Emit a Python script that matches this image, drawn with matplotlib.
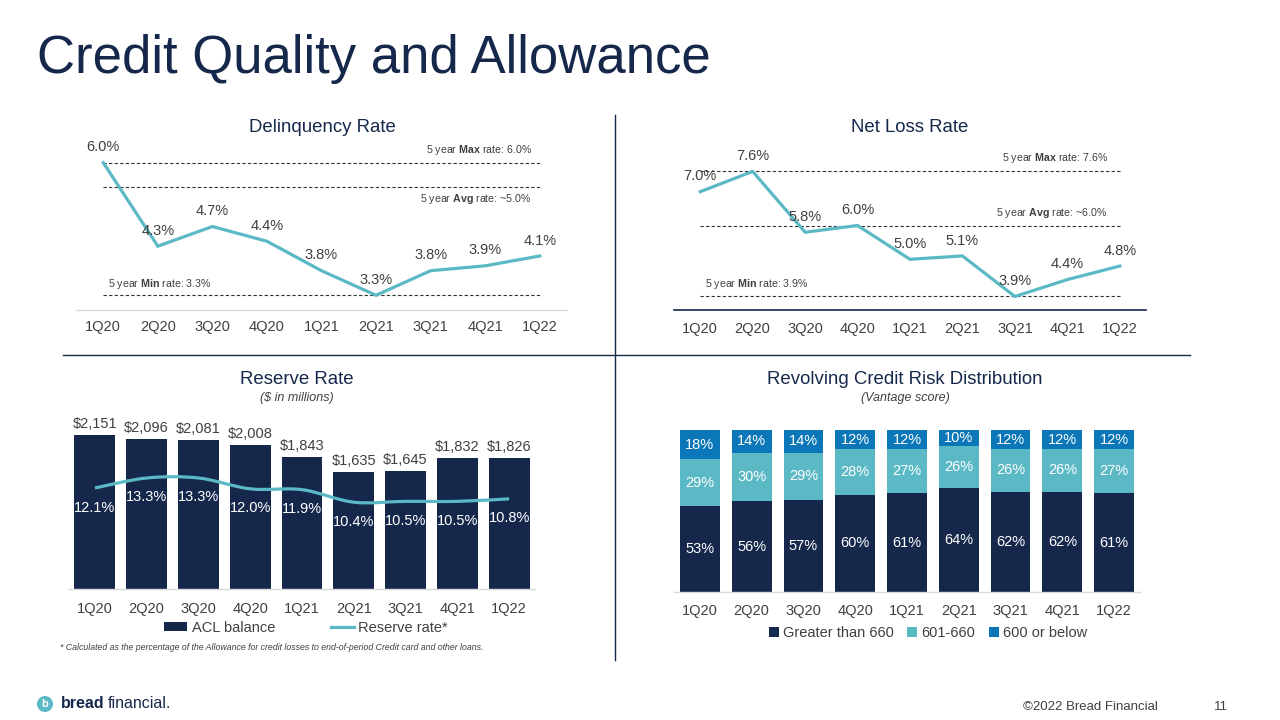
import matplotlib
matplotlib.use("Agg")
import matplotlib.pyplot as plt
from matplotlib.lines import Line2D
from matplotlib.patches import Patch, Ellipse, PathPatch
from matplotlib.path import Path
import numpy as np

plt.rcParams['font.family'] = ['Liberation Sans', 'DejaVu Sans']
plt.rcParams['mathtext.fontset'] = 'custom'
plt.rcParams['mathtext.rm'] = 'Liberation Sans'
plt.rcParams['mathtext.bf'] = 'Liberation Sans:bold'

# ---------------- data ----------------
quarters = ["1Q20", "2Q20", "3Q20", "4Q20", "1Q21", "2Q21", "3Q21", "4Q21", "1Q22"]

delinquency = [6.0, 4.3, 4.7, 4.4, 3.8, 3.3, 3.8, 3.9, 4.1]
delinq_max, delinq_avg_line, delinq_min = 6.0, 5.5, 3.3
delinq_max_lbl = "6.0%"
delinq_avg_lbl = "~5.0%"
delinq_min_lbl = "3.3%"

net_loss = [7.0, 7.6, 5.8, 6.0, 5.0, 5.1, 3.9, 4.4, 4.8]
nl_max, nl_avg_line, nl_min = 7.6, 6.0, 3.9
nl_max_lbl = "7.6%"
nl_avg_lbl = "~6.0%"
nl_min_lbl = "3.9%"

acl_balance = [2151, 2096, 2081, 2008, 1843, 1635, 1645, 1832, 1826]
reserve_rate = [12.1, 13.3, 13.3, 12.0, 11.9, 10.4, 10.5, 10.5, 10.8]

gt_660 = [53, 56, 57, 60, 61, 64, 62, 62, 61]
r601_660 = [29, 30, 29, 28, 27, 26, 26, 26, 27]
le_600 = [18, 14, 14, 12, 12, 10, 12, 12, 12]

# ---------------- style ----------------
NAVY = '#15284B'
TEAL = '#5BB9C5'
BLUE = '#0B76B8'
TXT = '#404040'
GRAY = '#D9D9D9'

W, H = 1280, 720
fig = plt.figure(figsize=(12.8, 7.2), dpi=100)
fig.patch.set_facecolor('white')


def rect(l, t, r, b):
    return [l / W, 1 - b / H, (r - l) / W, (b - t) / H]


def fx(x):
    return x / W


def fy(y):
    return 1 - y / H


x = np.arange(len(quarters))


def style_axes(ax, spine_color, spine_lw=1.0, pad=6):
    for s in ['top', 'right', 'left']:
        ax.spines[s].set_visible(False)
    ax.spines['bottom'].set_color(spine_color)
    ax.spines['bottom'].set_linewidth(spine_lw)
    ax.set_yticks([])
    ax.set_xticks(x)
    ax.set_xticklabels(quarters, fontsize=10.5, color=TXT)
    ax.tick_params(axis='x', length=0, pad=pad)
    ax.set_xlim(-0.5, len(quarters) - 0.5)
    ax.patch.set_alpha(0)


# ---------------- Title ----------------
fig.text(fx(37), fy(59), "Credit Quality and Allowance", fontsize=38,
         color=NAVY, va='center', ha='left')

# ---------------- Delinquency ----------------
ax1 = fig.add_axes(rect(76, 140, 567, 310))
style_axes(ax1, GRAY, 1.0, pad=7)
ax1.set_ylim(3.0, 3.0 + 170 / 49.1)
ax1.plot(x, delinquency, color=TEAL, lw=2.3, solid_joinstyle='miter', zorder=3)
for v in (delinq_max, delinq_avg_line, delinq_min):
    ax1.hlines(v, 0, len(quarters) - 1, colors='#333333', linestyles=(0, (3, 2)), lw=0.8)
for xi, v in zip(x, delinquency):
    ax1.annotate(f"{v:.1f}%", (xi, v), xytext=(0, 6), textcoords='offset points',
                 ha='center', va='bottom', fontsize=10.5, color=TXT)
fig.text(fx(322), fy(127), "Delinquency Rate", fontsize=13.4, color=NAVY, ha='center', va='center')
fig.text(fx(532), fy(150), r"5 year $\mathbf{Max}$ rate: " + delinq_max_lbl, fontsize=7.7,
         color=TXT, ha='right', va='center')
fig.text(fx(532), fy(199), r"5 year $\mathbf{Avg}$ rate: " + delinq_avg_lbl, fontsize=7.7,
         color=TXT, ha='right', va='center')
fig.text(fx(108), fy(284), r"5 year $\mathbf{Min}$ rate: " + delinq_min_lbl, fontsize=7.7,
         color=TXT, ha='left', va='center')

# ---------------- Net Loss ----------------
ax2 = fig.add_axes(rect(674, 140, 1146, 310))
style_axes(ax2, NAVY, 1.2, pad=9)
ax2.set_ylim(3.5, 3.5 + 170 / 33.8)
ax2.plot(x, net_loss, color=TEAL, lw=2.3, zorder=3)
for v in (nl_max, nl_avg_line, nl_min):
    ax2.hlines(v, 0, len(quarters) - 1, colors='#333333', linestyles=(0, (3, 2)), lw=0.8)
for xi, v in zip(x, net_loss):
    ax2.annotate(f"{v:.1f}%", (xi, v), xytext=(0, 6), textcoords='offset points',
                 ha='center', va='bottom', fontsize=10.5, color=TXT)
fig.text(fx(910), fy(127), "Net Loss Rate", fontsize=13.4, color=NAVY, ha='center', va='center')
fig.text(fx(1108), fy(158), r"5 year $\mathbf{Max}$ rate: " + nl_max_lbl, fontsize=7.7,
         color=TXT, ha='right', va='center')
fig.text(fx(1108), fy(213), r"5 year $\mathbf{Avg}$ rate: " + nl_avg_lbl, fontsize=7.7,
         color=TXT, ha='right', va='center')
fig.text(fx(705), fy(284), r"5 year $\mathbf{Min}$ rate: " + nl_min_lbl, fontsize=7.7,
         color=TXT, ha='left', va='center')

# ---------------- Reserve Rate ----------------
ax3 = fig.add_axes(rect(69, 420, 535, 589))
style_axes(ax3, GRAY, 1.0, pad=9)
ax3.set_ylim(0, 2151 * 169 / 154)
ax3.bar(x, acl_balance, width=0.79, color=NAVY, zorder=2)
for xi, v in zip(x, acl_balance):
    ax3.annotate(f"${v:,}", (xi, v), xytext=(0, 3), textcoords='offset points',
                 ha='center', va='bottom', fontsize=10.5, color=TXT)
ax3b = ax3.twinx()
ax3b.set_ylim(0, 12.1 * 169 / 101)
ax3b.axis('off')
# smooth curve (Catmull-Rom -> cubic Bezier) through the data points
P = np.column_stack([x, reserve_rate]).astype(float)
verts = [tuple(P[0])]
codes = [Path.MOVETO]
n = len(P)
for i in range(n - 1):
    p0 = P[i - 1] if i > 0 else P[i]
    p1, p2 = P[i], P[i + 1]
    p3 = P[i + 2] if i + 2 < n else P[i + 1]
    c1 = p1 + (p2 - p0) / 6.0
    c2 = p2 - (p3 - p1) / 6.0
    verts += [tuple(c1), tuple(c2), tuple(p2)]
    codes += [Path.CURVE4] * 3
ax3b.add_patch(PathPatch(Path(verts, codes), facecolor='none', edgecolor=TEAL, lw=2.3, zorder=3))
for xi, v in zip(x, reserve_rate):
    ax3b.annotate(f"{v:.1f}%", (xi, v), xytext=(0, -9), textcoords='offset points',
                  ha='center', va='top', fontsize=10.5, color='white')
fig.text(fx(297), fy(380), "Reserve Rate", fontsize=13.4, color=NAVY, ha='center', va='center')
fig.text(fx(297), fy(398), "($ in millions)", fontsize=9, color=TXT, ha='center', va='center',
         style='italic')
fig.legend(handles=[Patch(facecolor=NAVY, edgecolor='none', label='ACL balance'),
                    Line2D([], [], color=TEAL, lw=2.3, label='Reserve rate*')],
           loc='center', bbox_to_anchor=(fx(306), fy(628)), ncol=2, frameon=False,
           fontsize=10.5, handlelength=1.6, handleheight=0.55, handletextpad=0.3,
           columnspacing=3.8, labelcolor=TXT)
fig.text(fx(60), fy(647), "* Calculated as the percentage of the Allowance for credit losses to "
         "end-of-period Credit card and other loans.", fontsize=6.3, color=TXT,
         ha='left', va='center', style='italic')

# ---------------- Revolving Credit Risk Distribution ----------------
ax4 = fig.add_axes(rect(674, 420, 1140, 592))
style_axes(ax4, GRAY, 1.0, pad=9)
ax4.set_ylim(0, 100 * 172 / 162)
b1 = np.array(gt_660)
b2 = np.array(r601_660)
b3 = np.array(le_600)
ax4.bar(x, b1, width=0.77, color=NAVY, label='Greater than 660', zorder=2)
ax4.bar(x, b2, width=0.77, bottom=b1, color=TEAL, label='601-660', zorder=2)
ax4.bar(x, b3, width=0.77, bottom=b1 + b2, color=BLUE, label='600 or below', zorder=2)
for xi in x:
    ax4.text(xi, b1[xi] / 2, f"{b1[xi]}%", ha='center', va='center', color='white', fontsize=10.5)
    ax4.text(xi, b1[xi] + b2[xi] / 2, f"{b2[xi]}%", ha='center', va='center', color='white',
             fontsize=10.5)
    ax4.text(xi, b1[xi] + b2[xi] + b3[xi] / 2, f"{b3[xi]}%", ha='center', va='center',
             color='white', fontsize=10.5)
fig.text(fx(905), fy(380), "Revolving Credit Risk Distribution", fontsize=13.4, color=NAVY,
         ha='center', va='center')
fig.text(fx(905), fy(398), "(Vantage score)", fontsize=9, color=TXT, ha='center', va='center',
         style='italic')
h4, l4 = ax4.get_legend_handles_labels()
fig.legend(h4, l4, loc='center', bbox_to_anchor=(fx(928), fy(633)), ncol=3, frameon=False,
           fontsize=10.5, handlelength=0.7, handleheight=0.7, handletextpad=0.3,
           columnspacing=0.9, labelcolor=TXT)

# ---------------- dividers ----------------
fig.add_artist(Line2D([fx(615), fx(615)], [fy(115), fy(660)], color=NAVY, lw=1.0))
fig.add_artist(Line2D([fx(63), fx(1190)], [fy(355), fy(355)], color=NAVY, lw=1.0))

# ---------------- footer ----------------
fig.add_artist(Ellipse((fx(45), fy(704)), width=16 / W, height=16 / H,
                       transform=fig.transFigure, facecolor=TEAL, edgecolor='none'))
fig.text(fx(45), fy(704), "b", fontsize=8, fontweight='bold', color='white',
         ha='center', va='center')
fig.text(fx(61), fy(704), "bread", fontsize=11.5, fontweight='bold', color=NAVY,
         ha='left', va='center')
fig.text(fx(108), fy(704), "financial.", fontsize=11.5, color=NAVY, ha='left', va='center')
fig.text(fx(1158), fy(707), "©2022 Bread Financial", fontsize=9.5, color=TXT,
         ha='right', va='center')
fig.text(fx(1228), fy(707), "11", fontsize=9.5, color=TXT, ha='right', va='center')

fig.savefig("out.png", dpi=100, facecolor='white')
